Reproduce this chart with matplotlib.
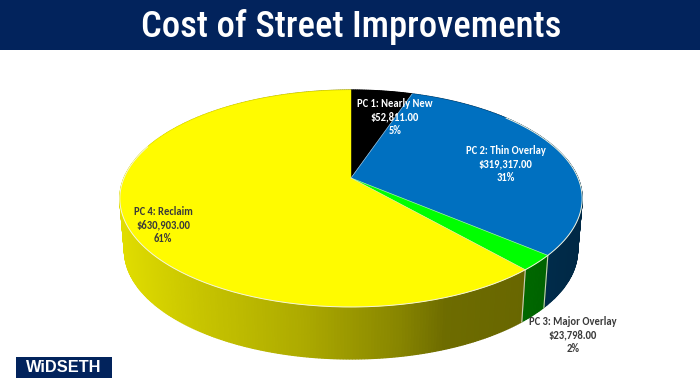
import numpy as np
import matplotlib
matplotlib.use('Agg')
import matplotlib.pyplot as plt

# data
names = ['PC 1: Nearly New', 'PC 2: Thin Overlay', 'PC 3: Major Overlay', 'PC 4: Reclaim']
costs = [52811.00, 319317.00, 23798.00, 630903.00]
percents = ['5%', '31%', '2%', '61%']

# look of the slices and their labels
colors = ['#000000', '#0070C0', '#00FF00', '#FFFB00']
label_colors = ['white', 'white', '#3a3a3a', '#3a3a3a']
label_pos = [(395, 117), (505.5, 164), (573, 335), (163, 225)]
navy = '#02235C'

# tilted disc: apex in pixels, radii and perspective
cx, cy = 351, 178
a, b, k = 227, 104.6, 0.189
depth, shrink = 52, 0.98


def top_xy(theta):
    # theta runs clockwise from 12 o'clock
    u, v = np.sin(theta), np.cos(theta)
    d = 1 + k * v
    return cx + a * u / d, cy - b * v / d


def low_xy(theta):
    x, y = top_xy(theta)
    return cx + (x - cx) * shrink, y + depth


def shade(color, x):
    f = np.interp(x, [120, 200, 300, 400, 445, 520, 582], [0.88, 0.78, 0.68, 0.53, 0.43, 0.41, 0.36])
    return tuple(c * f for c in matplotlib.colors.to_rgb(color))


fig = plt.figure(figsize=(7, 3.92), dpi=100, facecolor='white')
ax = fig.add_axes([0, 0, 1, 1])
ax.set_xlim(0, 700)
ax.set_ylim(392, 0)
ax.axis('off')

# header band + logo
ax.fill_between([0, 700], 0, 50, color=navy, lw=0)
ax.text(351, 37, 'Cost of Street Improvements', color='white', ha='center', va='baseline',
        family=['Roboto Condensed', 'Archivo Narrow', 'Roboto'], weight='medium', fontsize=26.4)
ax.fill_between([16, 112], 357, 378, color=navy, lw=0)
ax.text(64, 367.5, 'WiDSETH', color='white', ha='center', va='center',
        family='Liberation Sans', weight='bold', fontsize=11.8)

edges = np.concatenate([[0], np.cumsum(costs)]) / sum(costs) * 2 * np.pi

# side wall first, the top covers what is behind
for i in range(len(costs)):
    th = np.linspace(edges[i], edges[i + 1], max(3, int((edges[i + 1] - edges[i]) * 90)))
    for t0, t1 in zip(th[:-1], th[1:]):
        x0, y0 = top_xy(t0)
        x1, y1 = top_xy(t1)
        x2, y2 = low_xy(t1)
        x3, y3 = low_xy(t0)
        c = shade(colors[i], (x0 + x1) / 2)
        ax.fill([x0, x1, x2, x3], [y0, y1, y2, y3], color=c, lw=0.9, zorder=2)

# light lines between the slices on the wall
for t in edges[2:4]:
    x0, y0 = top_xy(t)
    x1, y1 = low_xy(t)
    ax.plot([x0, x1], [y0, y1], color='#c8d0b8', lw=0.8, zorder=3)

# top of the pie
for i in range(len(costs)):
    th = np.linspace(edges[i], edges[i + 1], 200)
    x, y = top_xy(th)
    ax.fill(np.r_[cx, x], np.r_[cy, y], color=colors[i], lw=0.3, zorder=4)

for i in range(1, len(costs)):
    x, y = top_xy(edges[i])
    ax.plot([cx, x], [cy, y], color='#d8e4ee', lw=0.5, alpha=0.7, zorder=5)

# pale rim along the front edge
th = np.linspace(edges[1] + 0.55, 2 * np.pi - 1.25, 300)
x, y = top_xy(th)
ax.plot(x, y, color='#f4f4e0', lw=0.7, zorder=5)

for i in range(len(names)):
    txt = names[i] + '\n' + '${:,.2f}'.format(costs[i]) + '\n' + percents[i]
    ax.text(label_pos[i][0], label_pos[i][1], txt, color=label_colors[i], ha='center', va='center',
            family=['Carlito', 'Open Sans'], weight='bold', fontsize=7.6, linespacing=1.27, zorder=6)

plt.savefig('out.png', dpi=100)
